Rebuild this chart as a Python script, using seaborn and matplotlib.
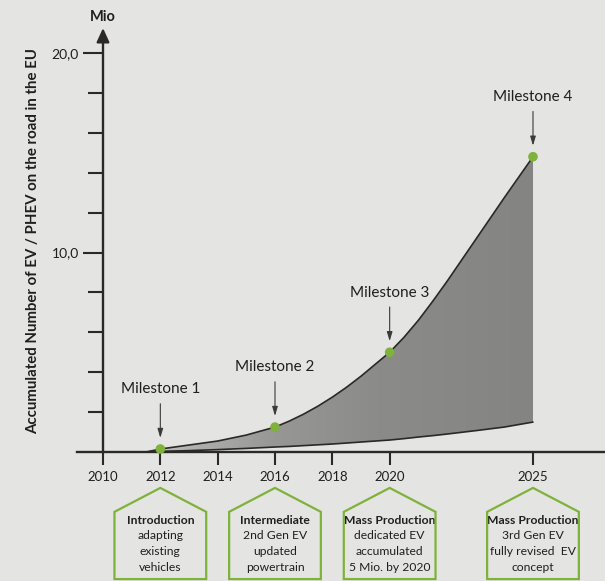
import numpy as np
import pandas as pd
import matplotlib
matplotlib.use("Agg")
import matplotlib.pyplot as plt
import seaborn as sns
from matplotlib.colors import LinearSegmentedColormap
from matplotlib.patches import Polygon

# Accumulated EV / PHEV on the road in the EU (millions)
years = [2011.5, 2012, 2013, 2014, 2015, 2016, 2016.5, 2017, 2017.5, 2018,
         2018.5, 2019, 2019.5, 2020, 2020.5, 2021, 2021.5, 2022, 2023, 2024, 2025]
upper_mio = [0.0, 0.15, 0.35, 0.55, 0.85, 1.25, 1.55, 1.9, 2.3, 2.75,
             3.25, 3.8, 4.4, 5.0, 5.75, 6.6, 7.55, 8.55, 10.65, 12.75, 14.8]
lower_mio = [0.0, 0.03, 0.07, 0.12, 0.18, 0.25, 0.28, 0.32, 0.36, 0.4,
             0.45, 0.5, 0.55, 0.6, 0.67, 0.75, 0.82, 0.9, 1.07, 1.25, 1.5]

milestone_years = [2012, 2016, 2020, 2025]
milestone_labels = ["Milestone 1", "Milestone 2", "Milestone 3", "Milestone 4"]
stage_titles = ["Introduction", "Intermediate", "Mass Production", "Mass Production"]
stage_notes = ["adapting\nexisting\nvehicles",
               "2nd Gen EV\nupdated\npowertrain",
               "dedicated EV\naccumulated\n5 Mio. by 2020",
               "3rd Gen EV\nfully revised  EV\nconcept"]

x_ticks = [2010, 2012, 2014, 2016, 2018, 2020, 2025]
y_major = [10, 20]
y_major_labels = ["10,0", "20,0"]
y_minor = [2, 4, 6, 8, 12, 14, 16, 18]

PAGE = "#e4e4e2"
INK = "#2b2926"
GREEN = "#7fb23a"
TEXT = "#1f1f1f"

sns.set_theme(style="white")
plt.rcParams["font.family"] = ["Lato", "DejaVu Sans"]

df = pd.DataFrame({"year": years, "upper": upper_mio, "lower": lower_mio})
milestone_values = df.set_index("year").loc[milestone_years, "upper"].to_numpy()

fig = plt.figure(figsize=(6.05, 5.81), dpi=100, facecolor=PAGE)
ax = fig.add_axes([0, 0, 1, 1])
ax.set_facecolor(PAGE)

# shaded band between the two curves, with a left-to-right grey gradient
band = ax.fill_between(df["year"], df["lower"], df["upper"],
                       facecolor="none", edgecolor="none")
shade = LinearSegmentedColormap.from_list(
    "shade", [(0.0, "#c4c4c2"), (0.15, "#acacaa"), (0.33, "#979795"),
              (0.6, "#8b8b89"), (1.0, "#848482")])
grad = np.linspace(0, 1, 256).reshape(1, -1)
img = ax.imshow(grad, extent=(df["year"].min(), df["year"].max(), 0, df["upper"].max()),
                aspect="auto", cmap=shade, origin="lower", zorder=1)
img.set_clip_path(band.get_paths()[0], ax.transData)

sns.lineplot(data=df, x="year", y="upper", ax=ax, color=INK, lw=1.2, zorder=3)
sns.lineplot(data=df, x="year", y="lower", ax=ax, color=INK, lw=1.2, zorder=3)
sns.scatterplot(x=milestone_years, y=milestone_values, ax=ax, color=GREEN,
                s=48, edgecolor="none", zorder=5)

# milestone call-outs
for yr, val, lab in zip(milestone_years, milestone_values, milestone_labels):
    ax.annotate(lab, xy=(yr, val), xytext=(0, 43), textcoords="offset points",
                ha="center", va="center", fontsize=11, color=TEXT, zorder=6,
                arrowprops=dict(arrowstyle="-|>,head_length=0.5,head_width=0.15",
                                color="#3a3a3a", lw=0.8, shrinkA=3, shrinkB=8))

# stage boxes below the time axis
hw, apex, shoulder, bottom = 1.6, -1.8, -3.0, -6.37
for yr, title, note in zip(milestone_years, stage_titles, stage_notes):
    house = Polygon([(yr - hw, bottom), (yr - hw, shoulder), (yr, apex),
                     (yr + hw, shoulder), (yr + hw, bottom)], closed=True,
                    facecolor="none", edgecolor=GREEN, lw=1.6, clip_on=False,
                    zorder=4)
    ax.add_patch(house)
    ax.text(yr, -3.41, title, ha="center", va="center", fontsize=8.7,
            fontweight="bold", color=TEXT)
    ax.text(yr, -3.93, note, ha="center", va="top", fontsize=8.7,
            color=TEXT, linespacing=1.55)

# axes drawn as a cross through (2010, 0)
ax.set_xlim(2006.407, 2027.512)
ax.set_ylim(-6.466, 22.657)
ax.spines["top"].set_visible(False)
ax.spines["right"].set_visible(False)
ax.spines["left"].set_position(("data", 2010))
ax.spines["left"].set_bounds(0, 20.8)
ax.spines["bottom"].set_position(("data", 0))
ax.spines["bottom"].set_bounds(2009.09, 2027.6)
for s in ("left", "bottom"):
    ax.spines[s].set_color(INK)
    ax.spines[s].set_linewidth(1.7)
ax.annotate("", xy=(2010, 21.25), xytext=(2010, 20.5),
            arrowprops=dict(arrowstyle="-|>,head_length=0.7,head_width=0.32",
                            color=INK, lw=1.6, shrinkA=0, shrinkB=0))
ax.text(2010, 21.8, "Mio", ha="center", va="center", fontsize=10.5,
        fontweight="bold", color=TEXT)

ax.set_xticks(x_ticks)
ax.set_xticklabels([str(t) for t in x_ticks])
ax.set_yticks(y_major)
ax.set_yticklabels(y_major_labels)
ax.set_yticks(y_minor, minor=True)
ax.tick_params(axis="x", which="major", direction="out", length=9.5, width=1.5,
               color=INK, labelsize=9.5, labelcolor=TEXT, pad=4, bottom=True)
ax.tick_params(axis="y", which="major", direction="out", length=14.5, width=1.5,
               color=INK, labelsize=10, labelcolor=TEXT, pad=3, left=True)
ax.tick_params(axis="y", which="minor", direction="out", length=11, width=1.5,
               color=INK, left=True)
ax.set_xlabel("")
ax.set_ylabel("")

fig.text(33 / 605, 1 - 241 / 581,
         "Accumulated Number of EV / PHEV on the road in the EU",
         rotation=90, ha="center", va="center", fontsize=10.8,
         fontweight="bold", color=TEXT)

fig.savefig("out.png", dpi=100, facecolor=PAGE)
